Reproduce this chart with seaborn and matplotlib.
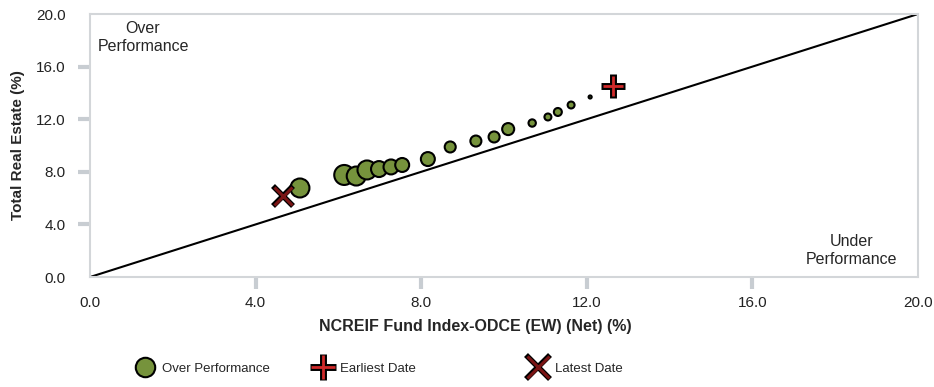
import numpy as np
import pandas as pd
import seaborn as sns
import matplotlib.pyplot as plt
from matplotlib.lines import Line2D

# Rolling-period returns, benchmark (x) vs Total Real Estate (y), in %
odce_net = [5.07, 6.14, 6.43, 6.69, 6.98, 7.27, 7.54, 8.16, 8.70, 9.32,
            9.76, 10.10, 10.68, 11.06, 11.30, 11.62, 12.08]
total_re = [6.77, 7.76, 7.68, 8.14, 8.21, 8.37, 8.52, 8.97, 9.89, 10.34,
            10.65, 11.25, 11.71, 12.17, 12.55, 13.08, 13.69]
bubble_size = [187, 207, 187, 187, 132, 116, 101, 101, 63, 63,
               63, 75, 28, 25, 33, 25, 5]

earliest = (12.63, 14.52)
latest = (4.66, 6.16)

ticks = [0.0, 4.0, 8.0, 12.0, 16.0, 20.0]
legend_labels = ["Over Performance", "Earliest Date", "Latest Date"]

sns.set_style("white")
plt.rcParams['font.family'] = ['Liberation Sans', 'DejaVu Sans']

df = pd.DataFrame({"x": odce_net, "y": total_re, "s": bubble_size})

fig = plt.figure(figsize=(9.34, 3.87), dpi=100)
ax = fig.add_axes([0.0964, 0.2842, 0.8865, 0.6796])

green = "#76933C"
darkred = "#7A1414"
red = "#D02A2A"

# 45 degree reference line
ax.plot([0, 20], [0, 20], color="black", lw=1.5, zorder=2)

sns.scatterplot(data=df, x="x", y="y", size="s", sizes=(min(bubble_size), max(bubble_size)),
                size_norm=(min(bubble_size), max(bubble_size)), color=green,
                edgecolor="black", linewidth=1.5, legend=False, ax=ax, zorder=3)

# earliest date: outlined plus
ax.plot(*earliest, marker="+", ms=17, mew=5, color="black", ls="none", zorder=4)
ax.plot(*earliest, marker="+", ms=15, mew=2, color=red, ls="none", zorder=5)
# latest date: outlined x
ax.plot(*latest, marker="x", ms=14, mew=4, color="black", ls="none", zorder=4)
ax.plot(*latest, marker="x", ms=13, mew=2.2, color=darkred, ls="none", zorder=5)

ax.set_xlim(0, 20)
ax.set_ylim(0, 20)
ax.set_xticks(ticks)
ax.set_yticks(ticks)
ax.set_xticklabels([f"{t:.1f}" for t in ticks], fontsize=11)
ax.set_yticklabels([f"{t:.1f}" for t in ticks], fontsize=11)
ax.tick_params(axis="both", length=8.5, width=3, color="#C8CDD2", direction="out",
               left=True, bottom=True, labelcolor="#222222")
ax.tick_params(axis="x", pad=5)
ax.tick_params(axis="y", pad=9)
# no tick marks at the two ends
for tk in [ax.xaxis.get_major_ticks()[0], ax.xaxis.get_major_ticks()[-1],
           ax.yaxis.get_major_ticks()[0], ax.yaxis.get_major_ticks()[-1]]:
    tk.tick1line.set_visible(False)
for sp in ax.spines.values():
    sp.set_color("#D3D6D9")
    sp.set_linewidth(1.5)

ax.set_xlabel("NCREIF Fund Index-ODCE (EW) (Net) (%)", fontsize=11.5, fontweight="bold")
ax.xaxis.set_label_coords(0.465, -0.16)
ax.set_ylabel("Total Real Estate (%)", fontsize=11, fontweight="bold")
ax.yaxis.set_label_coords(-0.0785, 0.5)

ax.text(1.28, 18.2, "Over\nPerformance", ha="center", va="center", fontsize=11.5, linespacing=1.25)
ax.text(18.4, 2.05, "Under\nPerformance", ha="center", va="center", fontsize=11.5, linespacing=1.25)

h_circle = Line2D([], [], marker="o", ms=14, color=green, mec="black", mew=1.5, ls="none")
h_plus = (Line2D([], [], marker="+", ms=19, mew=5, color="black", ls="none"),
          Line2D([], [], marker="+", ms=17, mew=2, color=red, ls="none"))
h_x = (Line2D([], [], marker="x", ms=17, mew=4, color="black", ls="none"),
       Line2D([], [], marker="x", ms=16, mew=2.2, color=darkred, ls="none"))

# legend entries sit at fixed spots along the bottom
for h, lab, x0 in zip([h_circle, h_plus, h_x], legend_labels, [0.1324, 0.3229, 0.5531]):
    fig.legend([h], [lab], loc="center left", bbox_to_anchor=(x0, 0.048), frameon=False,
               fontsize=9.5, handletextpad=0.5, handlelength=1.5)

fig.savefig("out.png", dpi=100)
